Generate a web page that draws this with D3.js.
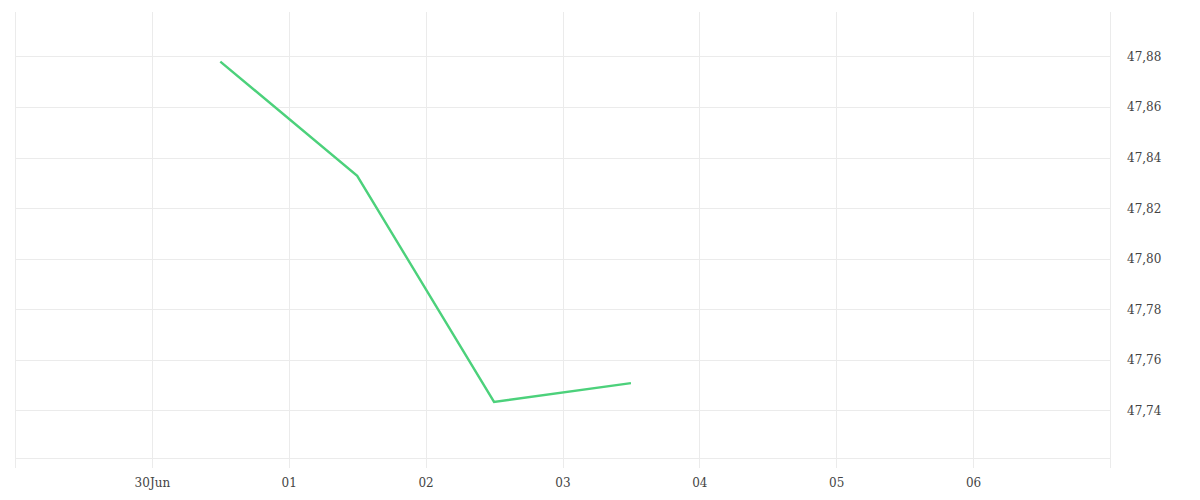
<!DOCTYPE html>
<html>
<head>
<meta charset="utf-8">
<script src="https://cdn.jsdelivr.net/npm/d3@7"></script>
<style>
  html, body { margin: 0; padding: 0; background: #fff; }
  svg { display: block; }
  text { font-family: "DejaVu Serif", "Liberation Serif", serif; }
</style>
</head>
<body>
<svg id="chart" width="1200" height="500"></svg>
<script>
// Data
const dates = ["2023-06-30T12:00:00Z", "2023-07-01T12:00:00Z", "2023-07-02T12:00:00Z", "2023-07-03T12:00:00Z"];
const values = [47.878, 47.8328, 47.7434, 47.7508];
const yTicks = [47.74, 47.76, 47.78, 47.80, 47.82, 47.84, 47.86, 47.88];
const xTickDates = ["2023-06-29", "2023-06-30", "2023-07-01", "2023-07-02", "2023-07-03", "2023-07-04", "2023-07-05", "2023-07-06", "2023-07-07"];
const xTickLabels = ["", "30Jun", "01", "02", "03", "04", "05", "06", ""];
const xDomain = ["2023-06-29T00:00:00Z", "2023-07-07T00:00:00Z"];
const yDomain = [47.7212, 47.8976];

const svg = d3.select("#chart");
const mLeft = 15, mRight = 1110, mTop = 12, mBottom = 458;

const x = d3.scaleUtc().domain(xDomain.map(d => new Date(d))).range([mLeft, mRight]);
const y = d3.scaleLinear().domain(yDomain).range([mBottom, mTop]);

const gridColor = "#ebebeb";

// Vertical grid + ticks
const xTicks = xTickDates.map(d => new Date(d + "T00:00:00Z"));
svg.append("g").selectAll("line").data(xTicks).join("line")
  .attr("x1", d => Math.round(x(d)) + 0.5).attr("x2", d => Math.round(x(d)) + 0.5)
  .attr("y1", mTop).attr("y2", mBottom + 10)
  .attr("stroke", gridColor).attr("stroke-width", 1);

// Horizontal grid
svg.append("g").selectAll("line").data(yTicks).join("line")
  .attr("x1", mLeft).attr("x2", mRight)
  .attr("y1", d => Math.round(y(d)) + 0.5).attr("y2", d => Math.round(y(d)) + 0.5)
  .attr("stroke", gridColor).attr("stroke-width", 1);

// bottom boundary line
svg.append("line")
  .attr("x1", mLeft).attr("x2", mRight)
  .attr("y1", Math.round(y(yDomain[0])) + 0.5).attr("y2", Math.round(y(yDomain[0])) + 0.5)
  .attr("stroke", gridColor).attr("stroke-width", 1);

// Y axis labels (right)
const yAxis = d3.axisRight(y).tickValues(yTicks).tickSize(0).tickPadding(17)
  .tickFormat(d => d3.format(".2f")(d).replace(".", ","));
const gy = svg.append("g").attr("transform", `translate(${mRight},0)`).call(yAxis);
gy.select(".domain").remove();
gy.selectAll("text").attr("font-family", "DejaVu Serif, Liberation Serif, serif")
  .attr("font-size", 12).attr("fill", "#444");

// X axis labels
const xAxis = d3.axisBottom(x).tickValues(xTicks).tickSize(0).tickPadding(20)
  .tickFormat((d, i) => xTickLabels[i]);
const gx = svg.append("g").attr("transform", `translate(0,${mBottom})`).call(xAxis);
gx.select(".domain").remove();
gx.selectAll("text").attr("font-family", "DejaVu Serif, Liberation Serif, serif")
  .attr("font-size", 12).attr("fill", "#444");

// Line
const pts = dates.map((d, i) => ({ t: new Date(d), v: values[i] }));
const line = d3.line().x(d => x(d.t)).y(d => y(d.v));
svg.append("path").datum(pts)
  .attr("d", line)
  .attr("fill", "none")
  .attr("stroke", "#4cd17b")
  .attr("stroke-width", 2.4)
  .attr("stroke-linejoin", "miter");
</script>
</body>
</html>
